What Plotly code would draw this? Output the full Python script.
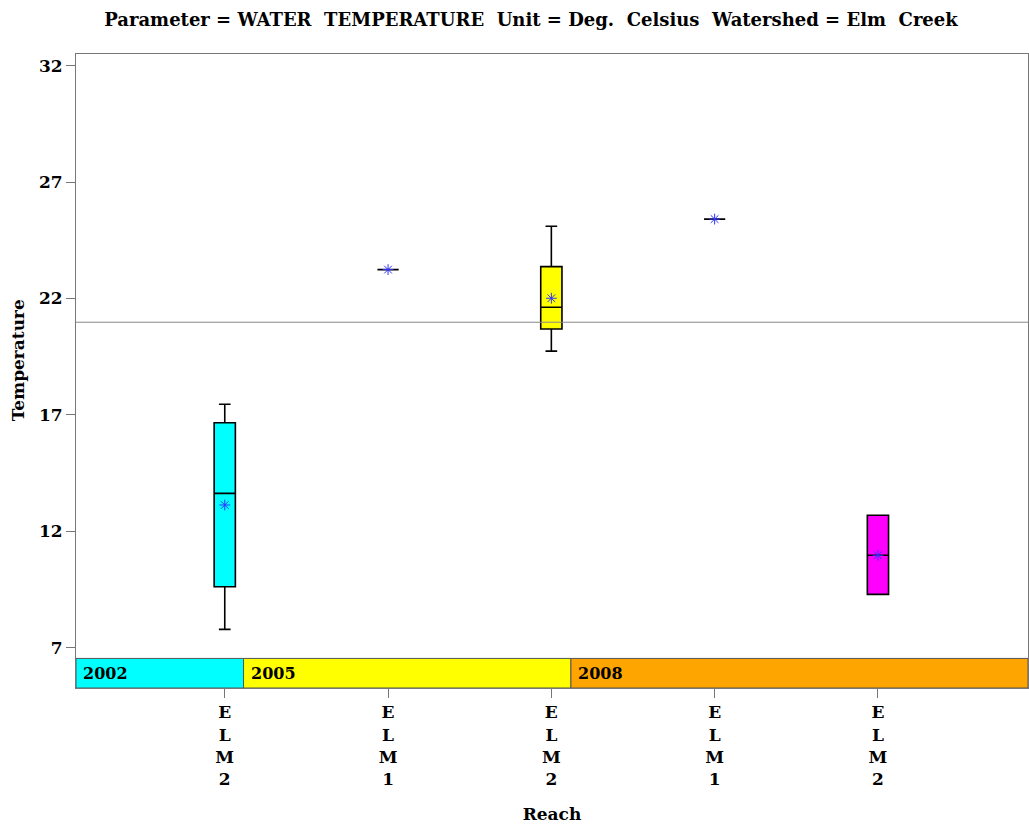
import plotly.graph_objects as go

# ---- data ----
reaches = ["ELM2", "ELM1", "ELM2", "ELM1", "ELM2"]
years = ["2002", "2005", "2005", "2008", "2008"]
q1 = [9.62, 23.24, 20.69, 25.41, 9.29]
medians = [13.63, 23.24, 21.62, 25.41, 10.97]
q3 = [16.66, 23.24, 23.37, 25.41, 12.69]
lower_whisker = [7.79, 23.24, 19.74, 25.41, 9.29]
upper_whisker = [17.46, 23.24, 25.10, 25.41, 12.69]
means = [13.13, 23.24, 22.01, 25.41, 10.97]
box_colors = ["#00FFFF", "#FFFF00", "#FFFF00", "#FFFF00", "#FF00FF"]
reference_value = 20.98
y_ticks = [7, 12, 17, 22, 27, 32]
band_years = ["2002", "2005", "2008"]
band_colors = ["#00FFFF", "#FFFF00", "#FFA500"]
band_edges = [-0.911, 0.115, 2.12, 4.919]

FONT = "DejaVu Serif"
y_range = [5.27, 32.5]
band_top = 6.54

fig = go.Figure()
xs = list(range(len(reaches)))
for i in xs:
    fig.add_trace(go.Box(
        x=[i], q1=[q1[i]], median=[medians[i]], q3=[q3[i]],
        lowerfence=[lower_whisker[i]], upperfence=[upper_whisker[i]],
        width=0.13, whiskerwidth=0.55,
        fillcolor=box_colors[i], line=dict(color="black", width=1.6),
        boxpoints=False, showlegend=False, hoverinfo="skip",
    ))

fig.add_trace(go.Scatter(
    x=xs, y=means, mode="markers",
    marker=dict(symbol="asterisk-open", size=9, color="#3333FF",
                line=dict(color="#3333FF", width=1)),
    showlegend=False, hoverinfo="skip",
))

# reference line
fig.add_shape(type="line", xref="paper", x0=0, x1=1, yref="y",
              y0=reference_value, y1=reference_value,
              line=dict(color="#888888", width=1))

# year bands
for k, yr in enumerate(band_years):
    fig.add_shape(type="rect", xref="x", yref="y",
                  x0=band_edges[k], x1=band_edges[k + 1],
                  y0=y_range[0], y1=band_top,
                  fillcolor=band_colors[k],
                  line=dict(color="#555555", width=1))
    fig.add_annotation(x=band_edges[k], y=(y_range[0] + band_top) / 2,
                       xref="x", yref="y", text="<b>" + yr + "</b>",
                       showarrow=False, xanchor="left", yanchor="middle",
                       xshift=5, font=dict(family=FONT, size=16, color="black"))

# y axis title
fig.add_annotation(x=0, y=0.516, xref="paper", yref="paper",
                   text="<b>Temperature</b>", textangle=-90, showarrow=False,
                   xanchor="center", yanchor="middle", xshift=-58.5,
                   font=dict(family=FONT, size=17, color="black"))

ticktext = ["<b>" + "<br>".join(list(r)) + "</b>" for r in reaches]

fig.update_layout(
    width=1029, height=831,
    margin=dict(l=76, r=1, t=54, b=143),
    paper_bgcolor="white", plot_bgcolor="white",
    boxmode="overlay",
    title=dict(text="<b>Parameter\u00a0=\u00a0WATER\u00a0\u00a0TEMPERATURE\u00a0\u00a0Unit\u00a0=\u00a0Deg.\u00a0\u00a0Celsius\u00a0\u00a0Watershed\u00a0=\u00a0Elm\u00a0\u00a0Creek</b>",
               x=531 / 1029, xanchor="center", y=1 - 20 / 831, yanchor="middle",
               font=dict(family=FONT, size=18, color="black")),
    font=dict(family=FONT, color="black"),
    xaxis=dict(range=[band_edges[0], band_edges[-1]], tickmode="array",
               tickvals=xs, ticktext=ticktext, ticks="outside", ticklen=9,
               tickcolor="#777777", showgrid=False, zeroline=False,
               showline=True, linecolor="#777777", mirror=True,
               tickfont=dict(family=FONT, size=17, color="black"),
               title=dict(text="<b>Reach</b>", standoff=20,
                          font=dict(family=FONT, size=17, color="black"))),
    yaxis=dict(range=y_range, tickmode="array", tickvals=y_ticks,
               ticktext=["<b>%d</b>" % v for v in y_ticks],
               ticks="outside", ticklen=9, tickcolor="#777777",
               showgrid=False, zeroline=False, showline=True,
               linecolor="#777777", mirror=True,
               tickfont=dict(family=FONT, size=17, color="black")),
)

fig.write_html("out.html",
               config={"displayModeBar": False},
               post_script="document.body.style.margin='0px';"
                           "document.body.style.overflow='hidden';")
